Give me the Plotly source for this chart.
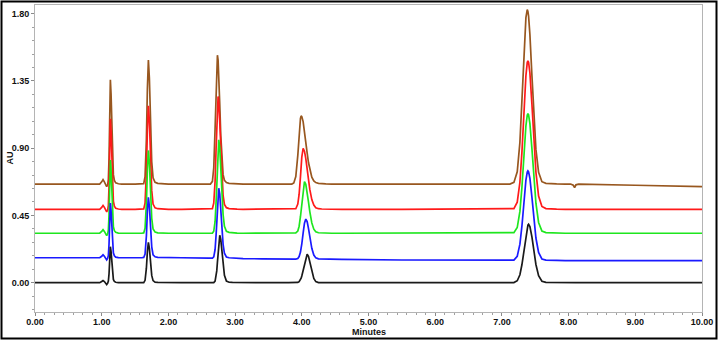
import plotly.graph_objects as go

# ---------------- data ----------------
minutes = [
    0.00, 0.90, 0.97, 1.00, 1.02, 1.04, 1.06, 1.075, 1.09, 1.10, 1.11, 1.12, 1.13, 1.14, 1.15, 1.16, 1.175, 1.19, 1.21, 1.25, 1.30,
    1.50, 1.60, 1.63, 1.65, 1.67, 1.685, 1.70, 1.715, 1.73, 1.75, 1.77, 1.80, 1.84, 1.90, 2.00,
    2.20, 2.60, 2.63, 2.66, 2.68, 2.70, 2.715, 2.725, 2.735, 2.745, 2.755, 2.77, 2.785, 2.80, 2.82, 2.84, 2.87, 2.91, 2.96, 3.03, 3.12, 3.40,
    3.80, 3.85, 3.88, 3.91, 3.94, 3.96, 3.98, 3.99, 4.00, 4.02, 4.04, 4.06, 4.08, 4.10, 4.12, 4.15, 4.18, 4.21, 4.25, 4.30, 4.36, 4.45, 4.60,
    5.50, 6.90, 7.05, 7.12, 7.18, 7.23, 7.27, 7.30, 7.33, 7.36, 7.38, 7.39, 7.40, 7.42, 7.45, 7.48, 7.51, 7.55, 7.60, 7.66, 7.73, 7.82, 7.95,
    8.03, 8.07, 8.09, 8.11, 8.15, 9.00, 10.00,
]

au_black = [
    0.000, 0.000, 0.000, 0.008, 0.015, 0.008, -0.004, -0.012, -0.003, 0.011, 0.060, 0.171, 0.241, 0.210, 0.135, 0.067, 0.022, 0.008, 0.003, 0.001, 0.000,
    0.000, 0.000, 0.001, 0.016, 0.097, 0.208, 0.270, 0.230, 0.138, 0.049, 0.014, 0.004, 0.002, 0.001, 0.000,
    0.000, 0.000, 0.000, 0.000, 0.001, 0.011, 0.040, 0.079, 0.137, 0.206, 0.272, 0.317, 0.290, 0.223, 0.120, 0.050, 0.011, 0.003, 0.002, 0.001, 0.000, 0.000,
    0.000, 0.000, 0.000, 0.000, 0.002, 0.007, 0.020, 0.030, 0.045, 0.084, 0.132, 0.173, 0.190, 0.176, 0.140, 0.074, 0.028, 0.007, 0.001, 0.000, 0.000, 0.000, 0.000,
    0.000, 0.000, 0.000, 0.000, 0.001, 0.013, 0.053, 0.120, 0.219, 0.323, 0.373, 0.386, 0.391, 0.376, 0.307, 0.211, 0.122, 0.047, 0.010, 0.002, 0.001, 0.000, 0.000,
    0.000, 0.000, 0.000, 0.000, 0.000, 0.000, 0.000,
]

au_blue = [
    0.167, 0.167, 0.167, 0.177, 0.187, 0.177, 0.163, 0.153, 0.164, 0.183, 0.259, 0.427, 0.533, 0.485, 0.372, 0.269, 0.200, 0.180, 0.171, 0.168, 0.167,
    0.167, 0.167, 0.169, 0.191, 0.312, 0.478, 0.571, 0.510, 0.373, 0.240, 0.187, 0.173, 0.169, 0.168, 0.167,
    0.167, 0.164, 0.163, 0.164, 0.173, 0.222, 0.320, 0.416, 0.519, 0.601, 0.632, 0.593, 0.493, 0.376, 0.257, 0.197, 0.172, 0.167, 0.165, 0.162, 0.161, 0.160,
    0.158, 0.157, 0.157, 0.158, 0.162, 0.175, 0.205, 0.229, 0.259, 0.332, 0.398, 0.426, 0.409, 0.364, 0.306, 0.230, 0.185, 0.166, 0.160, 0.159, 0.159, 0.158, 0.156,
    0.152, 0.149, 0.148, 0.148, 0.151, 0.177, 0.258, 0.378, 0.540, 0.687, 0.740, 0.748, 0.742, 0.698, 0.572, 0.423, 0.299, 0.202, 0.159, 0.151, 0.149, 0.149, 0.148,
    0.148, 0.148, 0.148, 0.148, 0.148, 0.148, 0.148,
]

au_green = [
    0.331, 0.331, 0.331, 0.343, 0.355, 0.343, 0.326, 0.315, 0.328, 0.353, 0.454, 0.679, 0.821, 0.757, 0.605, 0.468, 0.375, 0.348, 0.337, 0.332, 0.331,
    0.331, 0.331, 0.333, 0.364, 0.530, 0.758, 0.885, 0.802, 0.614, 0.431, 0.359, 0.339, 0.334, 0.332, 0.331,
    0.331, 0.331, 0.331, 0.332, 0.344, 0.410, 0.540, 0.668, 0.806, 0.915, 0.956, 0.904, 0.770, 0.615, 0.456, 0.377, 0.344, 0.337, 0.334, 0.332, 0.331, 0.331,
    0.331, 0.331, 0.331, 0.333, 0.346, 0.378, 0.443, 0.489, 0.541, 0.636, 0.677, 0.658, 0.608, 0.541, 0.476, 0.400, 0.358, 0.341, 0.334, 0.332, 0.332, 0.331, 0.331,
    0.331, 0.331, 0.331, 0.331, 0.335, 0.369, 0.477, 0.637, 0.853, 1.050, 1.121, 1.131, 1.123, 1.065, 0.897, 0.697, 0.532, 0.403, 0.346, 0.335, 0.333, 0.332, 0.331,
    0.331, 0.331, 0.331, 0.331, 0.331, 0.331, 0.331,
]

au_red = [
    0.491, 0.491, 0.491, 0.504, 0.517, 0.504, 0.486, 0.474, 0.488, 0.518, 0.643, 0.921, 1.097, 1.018, 0.830, 0.661, 0.546, 0.512, 0.498, 0.493, 0.491,
    0.491, 0.491, 0.494, 0.532, 0.740, 1.025, 1.184, 1.080, 0.844, 0.616, 0.526, 0.501, 0.495, 0.492, 0.491,
    0.491, 0.491, 0.491, 0.496, 0.533, 0.679, 0.898, 1.065, 1.196, 1.246, 1.217, 1.081, 0.895, 0.727, 0.584, 0.524, 0.502, 0.496, 0.493, 0.492, 0.491, 0.491,
    0.491, 0.491, 0.491, 0.495, 0.526, 0.592, 0.710, 0.779, 0.840, 0.898, 0.880, 0.830, 0.760, 0.686, 0.624, 0.556, 0.519, 0.502, 0.495, 0.493, 0.492, 0.491, 0.491,
    0.491, 0.491, 0.491, 0.491, 0.496, 0.539, 0.672, 0.872, 1.140, 1.385, 1.473, 1.485, 1.475, 1.403, 1.194, 0.946, 0.740, 0.580, 0.510, 0.496, 0.493, 0.492, 0.491,
    0.491, 0.491, 0.491, 0.491, 0.491, 0.491, 0.491,
]

au_brown = [
    0.660, 0.660, 0.660, 0.675, 0.690, 0.675, 0.655, 0.642, 0.657, 0.691, 0.834, 1.155, 1.357, 1.266, 1.050, 0.855, 0.723, 0.684, 0.668, 0.662, 0.660,
    0.660, 0.660, 0.663, 0.709, 0.959, 1.299, 1.490, 1.366, 1.083, 0.809, 0.702, 0.672, 0.665, 0.662, 0.660,
    0.660, 0.660, 0.660, 0.678, 0.769, 1.032, 1.315, 1.465, 1.522, 1.489, 1.396, 1.194, 0.987, 0.832, 0.723, 0.685, 0.670, 0.665, 0.663, 0.661, 0.660, 0.660,
    0.660, 0.660, 0.667, 0.710, 0.852, 0.994, 1.100, 1.116, 1.111, 1.078, 1.018, 0.944, 0.869, 0.804, 0.754, 0.706, 0.681, 0.670, 0.665, 0.662, 0.661, 0.660, 0.660,
    0.660, 0.660, 0.660, 0.660, 0.671, 0.742, 0.939, 1.207, 1.528, 1.773, 1.827, 1.815, 1.783, 1.660, 1.387, 1.105, 0.892, 0.738, 0.676, 0.665, 0.662, 0.661, 0.660,
    0.660, 0.652, 0.636, 0.655, 0.660, 0.652, 0.643,
]

x_tick_values = [0, 1, 2, 3, 4, 5, 6, 7, 8, 9, 10]
x_tick_labels = ["0.00", "1.00", "2.00", "3.00", "4.00", "5.00", "6.00", "7.00", "8.00", "9.00", "10.00"]
y_tick_values = [0.0, 0.45, 0.90, 1.35, 1.80]
y_tick_labels = ["0.00", "0.45", "0.90", "1.35", "1.80"]
x_title = "Minutes"
y_title = "AU"

# ---------------- figure ----------------
series = [
    ("brown", au_brown, "#98571f"),
    ("red", au_red, "#ff1a1a"),
    ("green", au_green, "#1ee61e"),
    ("blue", au_blue, "#1a1aff"),
    ("black", au_black, "#1a1a1a"),
]

for _, vals, _c in series:
    assert len(vals) == len(minutes)

fig = go.Figure()
for name, vals, color in series:
    fig.add_trace(go.Scatter(
        x=minutes, y=vals, mode="lines", name=name,
        line=dict(color=color, width=1.7),
        showlegend=False, hoverinfo="skip",
    ))

FONT = "Liberation Sans, Arial, sans-serif"
tick_font = dict(family=FONT, size=9, color="#111111", weight="bold")
title_font = dict(family=FONT, size=9, color="#111111", weight="bold")

L, R, T, B = 35, 17, 5, 29
W, H = 719, 341
PW, PH = W - L - R, H - T - B


def px_x(px):
    return (px - L) / PW


def px_y(py):
    return (H - B - py) / PH


fig.update_layout(
    template="none",
    width=W, height=H,
    margin=dict(l=L, r=R, t=T, b=B, pad=0),
    plot_bgcolor="white", paper_bgcolor="white",
    showlegend=False,
    font=dict(family=FONT, size=9, color="#111111"),
    shapes=[dict(
        type="rect", xref="paper", yref="paper",
        x0=px_x(1.5), x1=px_x(716.5), y0=px_y(338.5), y1=px_y(1.5),
        line=dict(color="black", width=2), fillcolor="rgba(0,0,0,0)", layer="above",
    )],
    annotations=[
        dict(text=x_title, xref="paper", yref="paper", x=0.5, y=px_y(332),
             xanchor="center", yanchor="middle", showarrow=False, font=title_font),
        dict(text=y_title, xref="paper", yref="paper", x=px_x(9), y=0.5, textangle=-90,
             xanchor="center", yanchor="middle", showarrow=False, font=title_font),
    ],
)

fig.update_xaxes(
    automargin=False,
    range=[0, 10],
    tickmode="array", tickvals=x_tick_values, ticktext=x_tick_labels,
    ticks="outside", ticklen=3, tickcolor="#8a8a8a", tickwidth=1,
    tickfont=tick_font, ticklabelstandoff=-2,
    showline=True, linecolor="#b4b4b4", linewidth=1, mirror=True,
    showgrid=False, zeroline=False,
    minor=dict(tickmode="linear", tick0=0, dtick=1 / 7, ticks="outside", ticklen=2, tickcolor="#a0a0a0", showgrid=False),
)

fig.update_yaxes(
    automargin=False,
    range=[-0.196, 1.858],
    tickmode="array", tickvals=y_tick_values, ticktext=y_tick_labels,
    ticks="outside", ticklen=3, tickcolor="#8a8a8a", tickwidth=1,
    tickfont=tick_font,
    showline=True, linecolor="#b4b4b4", linewidth=1, mirror=True,
    showgrid=False, zeroline=False,
    minor=dict(tickmode="linear", tick0=0, dtick=0.09, ticks="outside", ticklen=2, tickcolor="#a0a0a0", showgrid=False),
)

fig.write_html(
    "out.html",
    config={"displayModeBar": False, "staticPlot": True},
    post_script="document.body.style.margin='0';document.body.style.padding='0';document.body.style.overflow='hidden';",
)
